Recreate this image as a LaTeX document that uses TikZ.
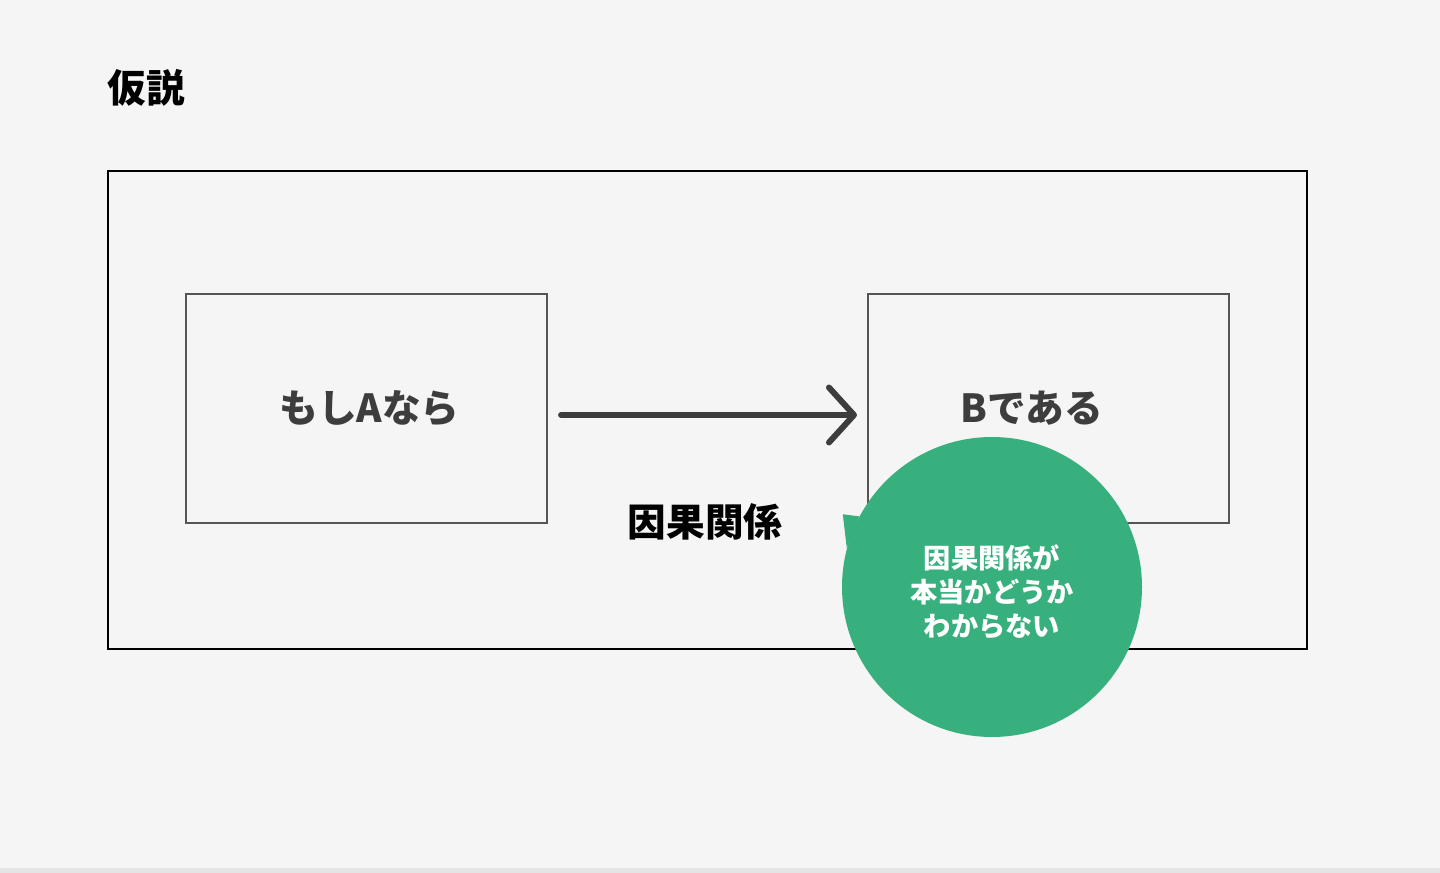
\documentclass[tikz,border=0pt]{standalone}
\usepackage{fontspec}
\setmainfont{Noto Sans CJK JP}
\usetikzlibrary{arrows.meta}

\tikzset{
    box/.style={draw=boxline, line width=1.2pt, minimum width=7.22cm, minimum height=4.58cm},
    boxtext/.style={text=darktext, font=\bfseries\fontsize{22}{26}\selectfont},
    bubbletext/.style={text=white, align=center, font=\bfseries\fontsize{15.5}{19.3}\selectfont}
}

\begin{document}
\begin{tikzpicture}
                \definecolor{paper}{RGB}{245,245,245}
                \definecolor{edge}{RGB}{228,228,228}
                \definecolor{boxline}{RGB}{85,85,85}
                \definecolor{darktext}{RGB}{61,61,61}
                \definecolor{bubble}{RGB}{55,176,125}

                \fill [paper] (0,0) rectangle (28.8,17.46);
                \fill [edge] (0,0) rectangle (28.8,0.1);
                \useasboundingbox (0,0) rectangle (28.8,17.46);

                \node [anchor=west, font=\bfseries\fontsize{22}{26}\selectfont] (title) at (2.03, 15.7) {仮説};

                \node [draw, line width=1.2pt, minimum width=23.98cm, minimum height=9.56cm] (frame) at (14.15, 9.26) {};

                \node [box] (ifbox) at (7.33, 9.29) {};
                \node [box] (thenbox) at (20.97, 9.29) {};
                \node [boxtext] (iftext) at ([xshift=0.06cm]ifbox.center) {もしAなら};
                \node [boxtext] (thentext) at ([xshift=-0.33cm]thenbox.center) {Bである};

                \draw [darktext, line width=3.4pt, line cap=round, shorten <=0.26cm, shorten >=0.2cm,
                       -{Straight Barb[round, length=0.5cm, width=1.1cm]}]
                      ([yshift=-0.13cm]ifbox.east) -- ([yshift=-0.13cm]thenbox.west);

                \node [font=\bfseries\fontsize{22}{26}\selectfont] (cause) at (14.1, 7.02) {因果関係};

                % speech bubble
                \node [circle, fill=bubble, minimum size=6cm, inner sep=0pt] (doubt) at (19.84, 5.72) {};
                \fill [bubble] (doubt.152) -- ([shift={(154:3.32)}]doubt.center) -- (doubt.165) -- cycle;
                \node [bubbletext] (doubttext) at (19.84, 5.62) {因果関係が\\本当かどうか\\わからない};

            \end{tikzpicture}
\end{document}
